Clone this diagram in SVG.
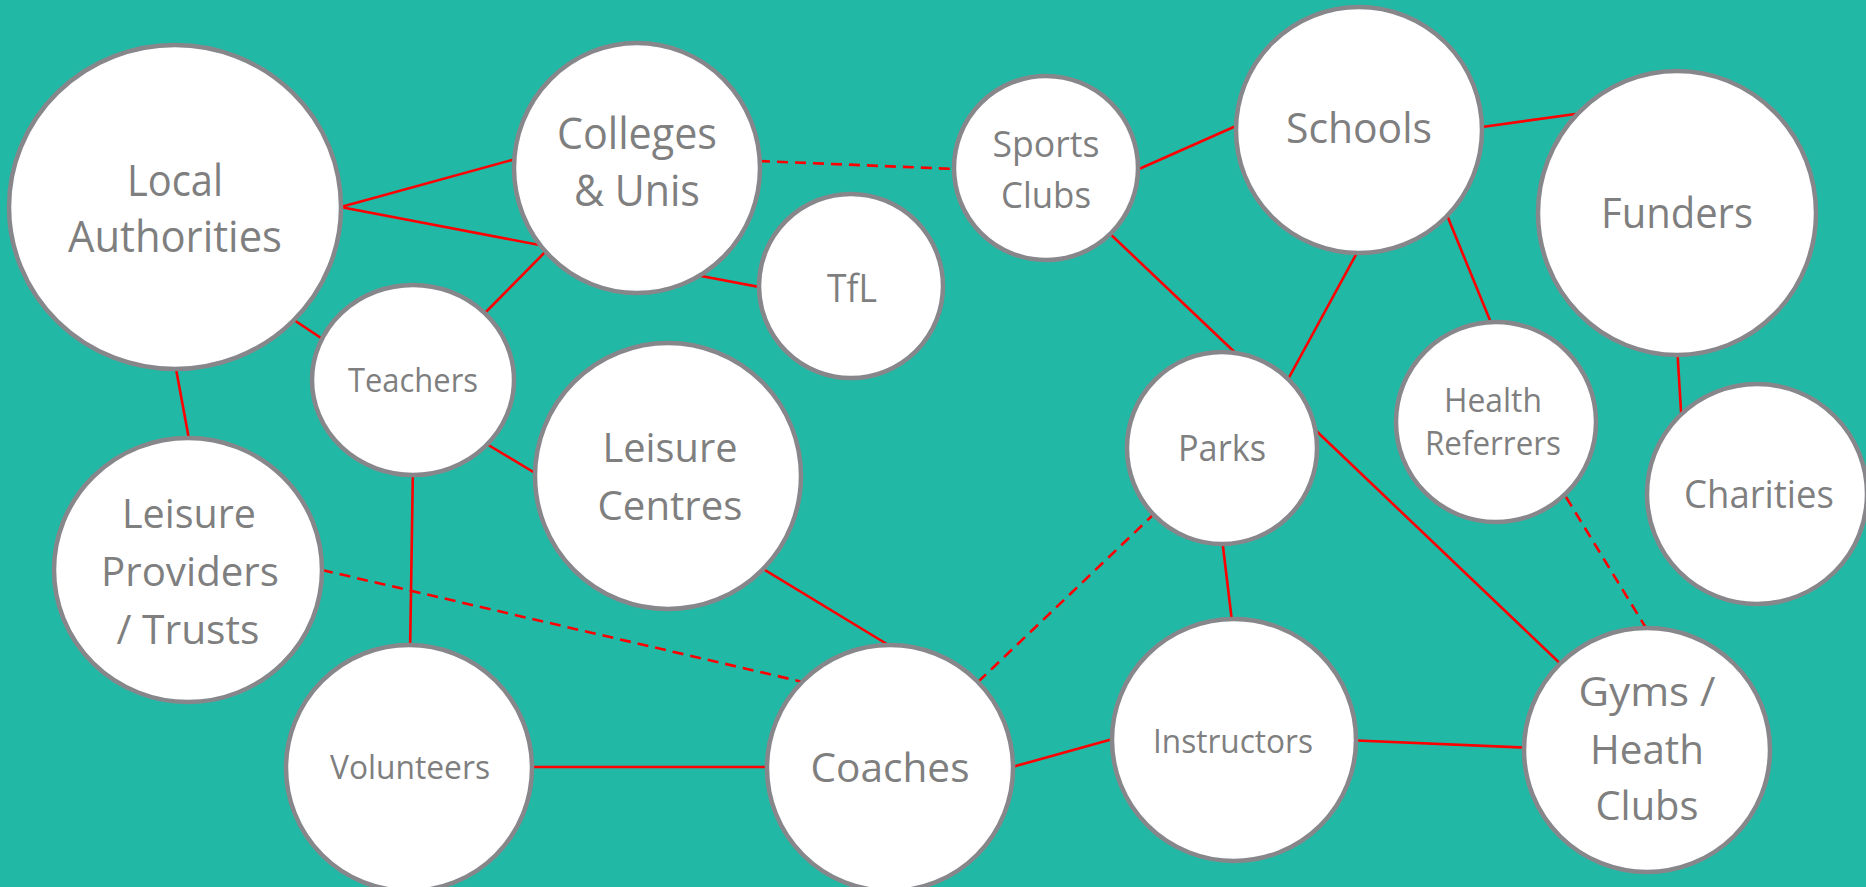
<svg xmlns="http://www.w3.org/2000/svg" width="1866" height="887" viewBox="0 0 1866 887">
  <style>
    .bg { fill: #21B9A5; }
    .node { fill: #FFFFFF; stroke: #87878B; stroke-width: 4.5; }
    .lbl { font-family: "Open Sans", "Liberation Sans", sans-serif; fill: #7F7F7F; text-anchor: middle; }
    .link { stroke: #FF0000; stroke-width: 2.6; fill: none; }
    .dash { stroke-dasharray: 11 7; }
  </style>
  <rect class="bg" x="0" y="0" width="1866" height="887"/>

  <g id="connectors">
    <line class="link" x1="330" y1="210" x2="530" y2="155"/>
    <line class="link" x1="330" y1="205" x2="550" y2="247"/>
    <line class="link" x1="480" y1="318" x2="550" y2="247"/>
    <line class="link" x1="285" y1="314" x2="330" y2="344"/>
    <line class="link" x1="680" y1="272" x2="770" y2="289"/>
    <line class="link dash" x1="759" y1="161" x2="955" y2="169"/>
    <line class="link" x1="1130" y1="173" x2="1245" y2="122"/>
    <line class="link" x1="1475" y1="128" x2="1590" y2="112"/>
    <line class="link" x1="1105" y1="229" x2="1245" y2="362"/>
    <line class="link" x1="1365" y1="238" x2="1280" y2="394"/>
    <line class="link" x1="1442" y1="203" x2="1496" y2="335"/>
    <line class="link" x1="1677" y1="345" x2="1682" y2="428"/>
    <line class="link" x1="174" y1="358" x2="191" y2="450"/>
    <line class="link" x1="480" y1="440" x2="545" y2="479"/>
    <line class="link" x1="413" y1="465" x2="410" y2="655"/>
    <line class="link dash" x1="322" y1="570" x2="803" y2="682"/>
    <line class="link" x1="755" y1="564" x2="900" y2="652"/>
    <line class="link" x1="525" y1="767" x2="775" y2="767"/>
    <line class="link dash" x1="978" y1="682" x2="1154" y2="514"/>
    <line class="link" x1="1221" y1="530" x2="1233" y2="630"/>
    <line class="link" x1="1308" y1="423" x2="1567" y2="670"/>
    <line class="link dash" x1="1566" y1="497" x2="1646" y2="628"/>
    <line class="link" x1="1005" y1="769" x2="1120" y2="737"/>
    <line class="link" x1="1345" y1="740" x2="1535" y2="748"/>
  </g>

  <g id="local-authorities">
    <ellipse class="node" cx="175" cy="207" rx="166" ry="162"/>
    <text class="lbl" x="175" y="196" font-size="44" textLength="96" lengthAdjust="spacingAndGlyphs">Local</text>
    <text class="lbl" x="175" y="252" font-size="44" textLength="214" lengthAdjust="spacingAndGlyphs">Authorities</text>
  </g>

  <g id="colleges-unis">
    <ellipse class="node" cx="637" cy="168" rx="123" ry="125"/>
    <text class="lbl" x="637" y="149" font-size="44" textLength="160" lengthAdjust="spacingAndGlyphs">Colleges</text>
    <text class="lbl" x="637" y="206" font-size="44" textLength="126" lengthAdjust="spacingAndGlyphs">&amp; Unis</text>
  </g>

  <g id="tfl">
    <circle class="node" cx="851" cy="286" r="92"/>
    <text class="lbl" x="852" y="302" font-size="39" textLength="50" lengthAdjust="spacingAndGlyphs">TfL</text>
  </g>

  <g id="sports-clubs">
    <circle class="node" cx="1046" cy="168" r="92"/>
    <text class="lbl" x="1046" y="157" font-size="36" textLength="107" lengthAdjust="spacingAndGlyphs">Sports</text>
    <text class="lbl" x="1046" y="208" font-size="36" textLength="90" lengthAdjust="spacingAndGlyphs">Clubs</text>
  </g>

  <g id="schools">
    <circle class="node" cx="1359" cy="130" r="123"/>
    <text class="lbl" x="1359" y="143" font-size="42" textLength="146" lengthAdjust="spacingAndGlyphs">Schools</text>
  </g>

  <g id="funders">
    <ellipse class="node" cx="1677" cy="213" rx="139" ry="142"/>
    <text class="lbl" x="1677" y="228" font-size="42" textLength="152" lengthAdjust="spacingAndGlyphs">Funders</text>
  </g>

  <g id="teachers">
    <ellipse class="node" cx="413" cy="380" rx="101" ry="95"/>
    <text class="lbl" x="413" y="392" font-size="32" textLength="130" lengthAdjust="spacingAndGlyphs">Teachers</text>
  </g>

  <g id="leisure-centres">
    <circle class="node" cx="668" cy="476" r="133"/>
    <text class="lbl" x="670" y="462" font-size="40" textLength="135" lengthAdjust="spacingAndGlyphs">Leisure</text>
    <text class="lbl" x="670" y="520" font-size="40" textLength="145" lengthAdjust="spacingAndGlyphs">Centres</text>
  </g>

  <g id="leisure-providers">
    <ellipse class="node" cx="188" cy="570" rx="134" ry="132"/>
    <text class="lbl" x="189" y="528" font-size="40" textLength="134" lengthAdjust="spacingAndGlyphs">Leisure</text>
    <text class="lbl" x="190" y="586" font-size="40" textLength="178" lengthAdjust="spacingAndGlyphs">Providers</text>
    <text class="lbl" x="188" y="644" font-size="40" textLength="143" lengthAdjust="spacingAndGlyphs">/ Trusts</text>
  </g>

  <g id="parks">
    <ellipse class="node" cx="1222" cy="448" rx="95" ry="96"/>
    <text class="lbl" x="1222" y="461" font-size="36" textLength="88" lengthAdjust="spacingAndGlyphs">Parks</text>
  </g>

  <g id="health-referrers">
    <circle class="node" cx="1496" cy="422" r="100"/>
    <text class="lbl" x="1493" y="412" font-size="33" textLength="98" lengthAdjust="spacingAndGlyphs">Health</text>
    <text class="lbl" x="1493" y="455" font-size="33" textLength="136" lengthAdjust="spacingAndGlyphs">Referrers</text>
  </g>

  <g id="charities">
    <circle class="node" cx="1757" cy="494" r="110"/>
    <text class="lbl" x="1759" y="508" font-size="38" textLength="150" lengthAdjust="spacingAndGlyphs">Charities</text>
  </g>

  <g id="volunteers">
    <circle class="node" cx="409" cy="768" r="123"/>
    <text class="lbl" x="410" y="779" font-size="32" textLength="160" lengthAdjust="spacingAndGlyphs">Volunteers</text>
  </g>

  <g id="coaches">
    <circle class="node" cx="890" cy="768" r="123"/>
    <text class="lbl" x="890" y="782" font-size="41" textLength="159" lengthAdjust="spacingAndGlyphs">Coaches</text>
  </g>

  <g id="instructors">
    <ellipse class="node" cx="1234" cy="740" rx="122" ry="121"/>
    <text class="lbl" x="1233" y="753" font-size="32" textLength="160" lengthAdjust="spacingAndGlyphs">Instructors</text>
  </g>

  <g id="gyms-health-clubs">
    <ellipse class="node" cx="1647" cy="750" rx="123" ry="122"/>
    <text class="lbl" x="1647" y="706" font-size="40" textLength="137" lengthAdjust="spacingAndGlyphs">Gyms /</text>
    <text class="lbl" x="1647" y="764" font-size="40" textLength="114" lengthAdjust="spacingAndGlyphs">Heath</text>
    <text class="lbl" x="1647" y="820" font-size="40" textLength="103" lengthAdjust="spacingAndGlyphs">Clubs</text>
  </g>
</svg>
